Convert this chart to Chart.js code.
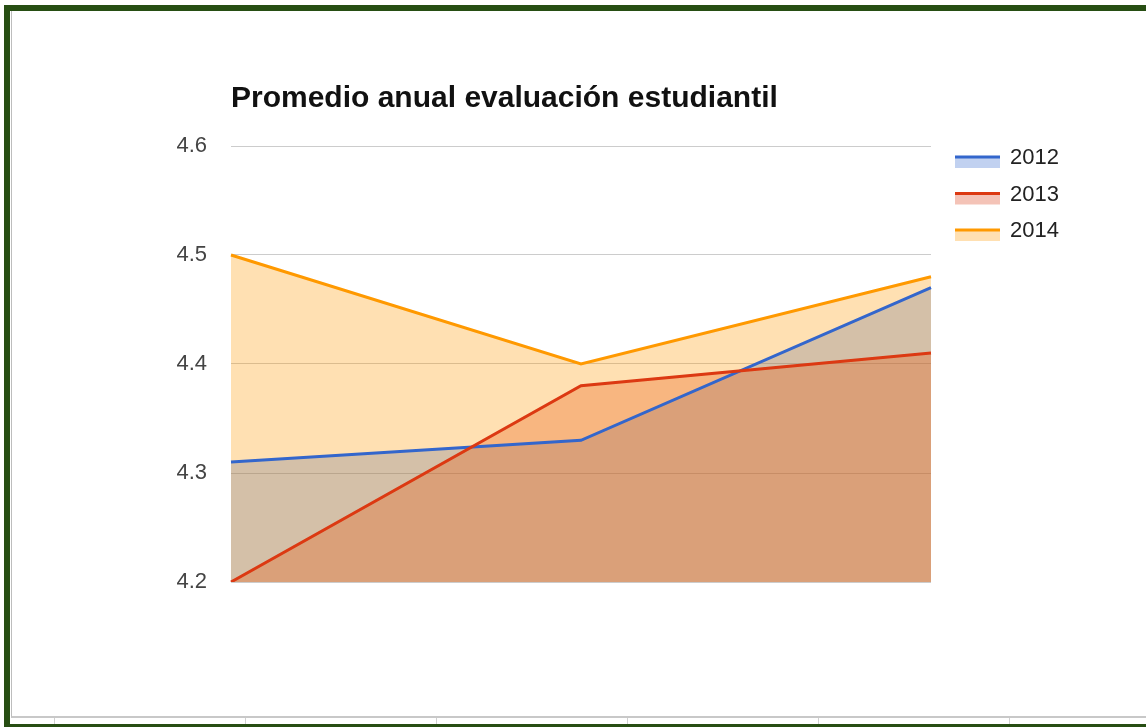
<!DOCTYPE html>
<html>
<head>
<meta charset="utf-8">
<script src="https://cdn.jsdelivr.net/npm/chart.js@4/dist/chart.umd.min.js"></script>
<style>
  html, body { margin: 0; padding: 0; background: #fff; width: 1146px; height: 727px; overflow: hidden; }
  #frame { position: absolute; left: 4px; top: 5px; width: 1200px; height: 722px; background: #274e13; }
  #inner { position: absolute; left: 10px; top: 11px; width: 1200px; height: 713px; background: #fff; }
  #sheet { position: absolute; left: 11px; top: 11px; width: 1200px; height: 707px; background: #fff;
           border-left: 1px solid #bdbdbd; border-bottom: 2px solid #c8c8c8; box-sizing: border-box; }
  .cell { position: absolute; top: 718px; width: 1px; height: 6px; background: #d0d0d0; }
  #wrap { position: absolute; left: 0; top: 0; width: 1146px; height: 727px; }
</style>
</head>
<body>
<div id="frame"></div>
<div id="inner"></div>
<div id="sheet"></div>
<div class="cell" style="left:54px"></div>
<div class="cell" style="left:245px"></div>
<div class="cell" style="left:436px"></div>
<div class="cell" style="left:627px"></div>
<div class="cell" style="left:818px"></div>
<div class="cell" style="left:1009px"></div>
<div id="wrap"><canvas id="c" width="1146" height="727"></canvas></div>
<script>
const chartTitle = 'Promedio anual evaluación estudiantil';
const categories = ['1', '2', '3'];
const seriesNames = ['2012', '2013', '2014'];
const values2012 = [4.31, 4.33, 4.47];
const values2013 = [4.20, 4.38, 4.41];
const values2014 = [4.50, 4.40, 4.48];
const yTicks = [4.2, 4.3, 4.4, 4.5, 4.6];

const lineColors = ['#3366cc', '#dc3912', '#ff9900'];
const fillColors = ['rgba(51,102,204,0.3)', 'rgba(220,57,18,0.3)', 'rgba(255,153,0,0.3)'];
const allValues = [values2012, values2013, values2014];

const datasets = seriesNames.map((name, i) => ({
  label: name,
  data: allValues[i],
  borderColor: lineColors[i],
  backgroundColor: fillColors[i],
  borderWidth: 3,
  pointRadius: 0,
  pointHoverRadius: 0,
  tension: 0,
  fill: 'start',
  order: 3 - i
}));

const titlePlugin = {
  id: 'customTitle',
  afterDraw(chart) {
    const ctx = chart.ctx;
    ctx.save();
    ctx.font = 'bold 30px "Liberation Sans", Arial, sans-serif';
    ctx.fillStyle = '#111';
    ctx.textAlign = 'left';
    ctx.textBaseline = 'alphabetic';
    ctx.fillText(chartTitle, chart.chartArea.left, 107);
    ctx.restore();
  }
};

const legendPlugin = {
  id: 'customLegend',
  afterDraw(chart) {
    const ctx = chart.ctx;
    ctx.save();
    chart.data.datasets.forEach((ds, i) => {
      const cy = 157 + i * 36.5;
      const x0 = chart.chartArea.right + 24;
      ctx.fillStyle = ds.backgroundColor;
      ctx.fillRect(x0, cy, 45, 11);
      ctx.fillStyle = ds.borderColor;
      ctx.fillRect(x0, cy - 1.5, 45, 3);
      ctx.font = '22px "Liberation Sans", Arial, sans-serif';
      ctx.fillStyle = '#222';
      ctx.textAlign = 'left';
      ctx.textBaseline = 'middle';
      ctx.fillText(ds.label, x0 + 55, cy + 1);
    });
    ctx.restore();
  }
};

new Chart(document.getElementById('c'), {
  type: 'line',
  data: { labels: categories, datasets },
  options: {
    responsive: false,
    animation: false,
    layout: { padding: { left: 151, right: 215, top: 146, bottom: 145 } },
    plugins: {
      legend: { display: false },
      title: { display: false },
      tooltip: { enabled: false },
      filler: { drawTime: 'beforeDatasetsDraw' }
    },
    scales: {
      x: { display: false, offset: false },
      y: {
        min: yTicks[0],
        max: yTicks[yTicks.length - 1],
        afterFit(scale) { scale.width = 80; },
        afterBuildTicks(scale) { scale.ticks = yTicks.map(v => ({ value: v })); },
        ticks: {
          padding: 24,
          color: '#444',
          font: { size: 22, family: '"Liberation Sans", Arial, sans-serif' },
          callback: v => Number(v).toFixed(1)
        },
        grid: { color: '#cccccc', lineWidth: 1, drawTicks: false },
        border: { display: false }
      }
    }
  },
  plugins: [titlePlugin, legendPlugin]
});
</script>
</body>
</html>
